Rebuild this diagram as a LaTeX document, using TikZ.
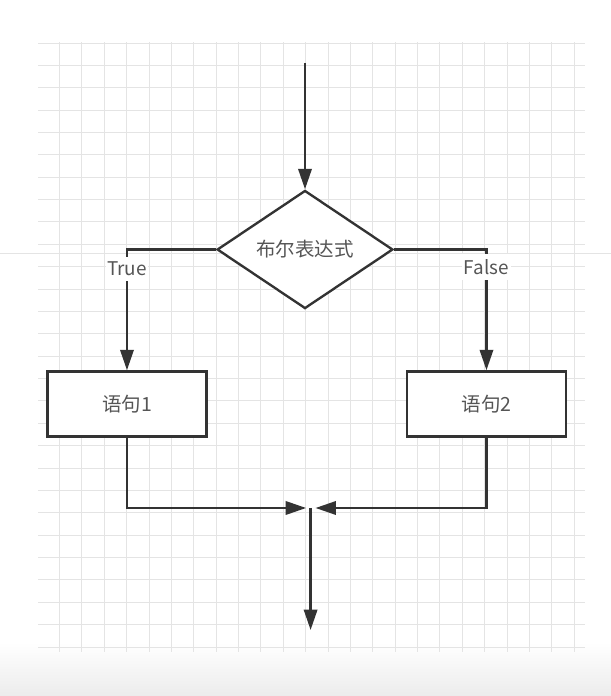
\documentclass[tikz,border=0pt]{standalone}
\usepackage{fontspec}
\newfontfamily\cjk{Noto Sans CJK SC}
\usepackage{xcolor}
\usepackage{tikz}
\usetikzlibrary{positioning,shapes.geometric,arrows.meta}
\definecolor{linegray}{HTML}{333333}
\definecolor{textgray}{HTML}{555555}
\definecolor{gridgray}{HTML}{E4E4E4}

\begin{document}
\begin{tikzpicture}[
	decision/.style={diamond, draw=linegray, line width=1.5pt, fill=white, inner sep=0pt, minimum width=3.93cm, minimum height=2.64cm, font=\cjk\fontsize{12.4}{14}\selectfont, text=textgray},
	stmt/.style={rectangle, draw=linegray, line width=1.7pt, fill=white, inner sep=0pt, minimum width=3.55cm, minimum height=1.45cm, font=\cjk\fontsize{12.4}{14}\selectfont, text=textgray},
	branch/.style={fill=white, inner xsep=1pt, inner ysep=3.2pt, font=\cjk\fontsize{12}{14}\selectfont, text=textgray},
	arrow/.style={-{Triangle[length=13pt,width=8.5pt]}, linegray, line width=1.5pt},
	gridline/.style={gridgray, line width=0.6pt}
	]
	\useasboundingbox (0,0) rectangle (13.656,15.556);
	
	% ===== BACKGROUND =====
	\shade[top color=white, bottom color=gray!15] (0,0) rectangle (13.656,1.2);
	\foreach \k in {0,...,27}
		\draw[gridline] (0.85,{14.595-0.5*\k}) -- (13.075,{14.595-0.5*\k});
	\foreach \k in {0,...,23}
		\draw[gridline] ({1.332+0.5*\k},14.62) -- ({1.332+0.5*\k},0.98);
	\draw[gridline] (0,9.90) -- (13.656,9.90);
	
	% ===== NODES =====
	\node[decision] (cond) at (6.817,9.979) {布尔表达式};
	\node[stmt] (s1) at (2.838,6.526) {语句1};
	\node[stmt] (s2) at (10.873,6.526) {语句2};
	
	\coordinate (in)    at (6.817,14.148);
	\coordinate (merge) at (6.942,4.202);
	\coordinate (out)   at (6.942,1.475);
	
	% ===== ARROWS =====
	\draw[arrow] (in) -- (cond.north);
	\draw[arrow] (cond.west) -| node[branch, pos=0.58] {True} (s1.north);
	\draw[arrow] (cond.east) -| node[branch, pos=0.573] {False} (s2.north);
	
	\draw[arrow] (s1.south) |- ([xshift=-1mm]merge);
	\draw[arrow] (s2.south) |- ([xshift=1.1mm]merge);
	\draw[arrow] (merge) -- (out);
\end{tikzpicture}
\end{document}
